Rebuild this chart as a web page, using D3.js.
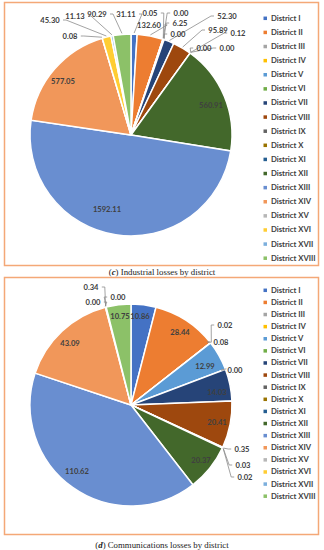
<!DOCTYPE html>
<html>
<head>
<meta charset="utf-8">
<script src="https://cdn.jsdelivr.net/npm/d3@7"></script>
<style>
  body { margin: 0; background: #fff; }
  svg { display: block; }
</style>
</head>
<body>
<div id="chart"></div>
<script>
// district names shared by both pies
const districts = ['District I', 'District II', 'District III', 'District IV', 'District V',
  'District VI', 'District VII', 'District VIII', 'District IX', 'District X', 'District XI',
  'District XII', 'District XIII', 'District XIV', 'District XV', 'District XVI',
  'District XVII', 'District XVIII'];

// (c) industrial losses
const industrial = [31.11, 132.60, 0.05, 0.00, 6.25, 0.00, 52.30, 95.89, 0.12, 0.00, 0.00,
  560.91, 1592.11, 577.05, 0.08, 45.30, 11.13, 90.29];

// (d) communications losses
const communications = [10.86, 28.44, 0.02, 0.08, 12.99, 0.00, 14.03, 20.41, 0.35, 0.03, 0.02,
  20.37, 110.62, 43.09, 0.00, 0.34, 0.00, 10.75];

// office palette
const colors = ['#4472C4', '#ED7D31', '#A5A5A5', '#FFC000', '#5B9BD5', '#70AD47',
  '#264478', '#9E480E', '#636363', '#997300', '#255E91', '#43682B',
  '#698ED0', '#F1975A', '#B7B7B7', '#FFCD33', '#7CAFDD', '#8CC168'];

// where excel put each data label, offset from pie centre
const labelsC = [[-5,-121],[18,-110],[19,-122],[50,-122],[49,-112],[47,-101],[96,-119],[87,-105],
  [107,-102],[73,-87],[96,-87],[80,-30],[-24,74],[-68,-54],[-61,-99],[-81,-115],[-56,-119],[-34,-121]];
const labelsD = [[9,-89],[49,-73],[94,-80],[90,-63],[74,-39],[104,-35],[86,-13],[86,17],
  [111,44],[112,60],[114,72],[70,55],[-54,66],[-61,-62],[-38,-103],[-40,-118],[-13,-108],[-11,-89]];

const W = 324, H = 550;
const svg = d3.select('#chart').append('svg').attr('width', W).attr('height', H);

const color = d3.scaleOrdinal().domain(districts).range(colors);

function drawPanel(values, labelPos, opt) {
  const g = svg.append('g');

  g.append('rect')
    .attr('x', opt.box[0]).attr('y', opt.box[1])
    .attr('width', opt.box[2]).attr('height', opt.box[3])
    .attr('fill', 'none').attr('stroke', '#F4A877').attr('stroke-width', 1.5);

  const data = districts.map((d, i) => ({name: d, value: values[i], lp: labelPos[i]}));
  const pie = d3.pie().sort(null).value(d => d.value);
  const arcs = pie(data);
  const arc = d3.arc().innerRadius(0).outerRadius(opt.r);

  const pg = g.append('g').attr('transform', `translate(${opt.cx},${opt.cy})`);

  pg.selectAll('path.slice')
    .data(arcs.filter(a => a.value > 0))
    .join('path')
    .attr('class', 'slice')
    .attr('d', arc)
    .attr('fill', d => color(d.data.name))
    .attr('stroke', '#fff')
    .attr('stroke-width', 1.5);

  // leader lines for labels sitting outside the pie
  const edge = d3.arc().innerRadius(opt.r + 1).outerRadius(opt.r + 1);
  arcs.forEach(a => {
    const [lx, ly] = a.data.lp;
    if (Math.hypot(lx, ly) <= opt.r) return;
    const [ex, ey] = edge.centroid(a);
    const half = a.data.value.toFixed(2).length * 2.2 + 2;
    const sx = lx < ex ? lx + half : lx - half;
    const kx = lx < ex ? sx + 3 : sx - 3;
    pg.append('polyline')
      .attr('points', [[sx, ly], [kx, ly], [ex, ey]].map(p => p.join(',')).join(' '))
      .attr('fill', 'none')
      .attr('stroke', '#8C8C8C')
      .attr('stroke-width', 0.8);
  });

  pg.selectAll('text.lbl')
    .data(arcs)
    .join('text')
    .attr('class', 'lbl')
    .attr('x', d => d.data.lp[0])
    .attr('y', d => d.data.lp[1])
    .attr('dy', '0.35em')
    .attr('text-anchor', 'middle')
    .attr('font-family', 'Lato, sans-serif')
    .attr('font-weight', 'bold')
    .attr('font-size', 7.6)
    .attr('fill', '#404040')
    .text(d => d.value.toFixed(2));

  // legend
  const rows = d3.scaleBand().domain(districts).range(opt.legendY).paddingInner(0);
  const lg = g.append('g');
  const item = lg.selectAll('g')
    .data(districts)
    .join('g')
    .attr('transform', d => `translate(265,${rows(d) + rows.bandwidth() / 2})`);
  item.append('rect')
    .attr('x', -1.5).attr('y', -1.5)
    .attr('width', 3.5).attr('height', 3.5)
    .attr('fill', d => color(d));
  item.append('text')
    .attr('x', 6)
    .attr('dy', '0.35em')
    .attr('font-family', 'Lato, sans-serif')
    .attr('font-weight', 'bold')
    .attr('font-size', 7.7)
    .attr('fill', '#404040')
    .text(d => d);

  // caption under the box
  const cap = svg.append('text')
    .attr('x', 162).attr('y', opt.captionY)
    .attr('text-anchor', 'middle')
    .attr('font-family', '"Liberation Serif", serif')
    .attr('font-size', 8.8)
    .attr('fill', '#222');
  cap.append('tspan').text('(');
  cap.append('tspan').attr('font-weight', 'bold').attr('font-style', 'italic').text(opt.letter);
  cap.append('tspan').text(') ' + opt.caption);
}

drawPanel(industrial, labelsC, {
  box: [4.5, 2.5, 314, 263], cx: 131, cy: 135, r: 101,
  legendY: [11, 265], captionY: 275, letter: 'c', caption: 'Industrial losses by district'
});

drawPanel(communications, labelsD, {
  box: [4.5, 277.5, 314, 257], cx: 131, cy: 405, r: 101,
  legendY: [284, 502], captionY: 548, letter: 'd', caption: 'Communications losses by district'
});
</script>
</body>
</html>
